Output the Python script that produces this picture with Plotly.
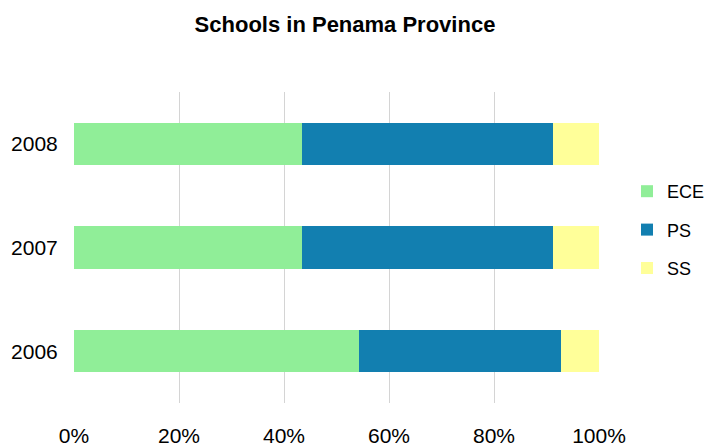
import plotly.graph_objects as go

years = ["2006", "2007", "2008"]
ece = [54.2, 43.5, 43.5]
ps = [38.6, 47.8, 47.8]
ss = [7.2, 8.7, 8.7]

series = [("ECE", ece, "#90EE98"), ("PS", ps, "#127FB0"), ("SS", ss, "#FFFF99")]

fig = go.Figure()
for i, (name, vals, col) in enumerate(series):
    fig.add_trace(go.Bar(
        y=years, x=vals, name=name, orientation="h",
        marker=dict(color=col, line=dict(width=0)),
        legendgroup=name,
    ))

font = "Liberation Sans, Arial, sans-serif"
fig.update_layout(
    width=705, height=446,
    barmode="stack", bargap=0.594,
    plot_bgcolor="white", paper_bgcolor="white",
    margin=dict(l=74, r=106, t=92, b=43, autoexpand=False),
    title=dict(text="<b>Schools in Penama Province</b>", x=345/705, xanchor="center",
               y=1 - 24.5/446, yanchor="middle",
               font=dict(family=font, size=22, color="#000000")),
    font=dict(family=font, size=21, color="#000000"),
    xaxis=dict(range=[0, 100], tickvals=[0, 20, 40, 60, 80, 100],
               ticktext=["0%", "20%", "40%", "60%", "80%", "100%"],
               showgrid=True, gridcolor="#d4d4d4", gridwidth=1,
               zeroline=False, showline=False, ticks="outside", ticklen=14,
               tickcolor="rgba(0,0,0,0)", automargin=False),
    yaxis=dict(showgrid=False, zeroline=False, showline=False,
               ticks="outside", ticklen=11, tickcolor="rgba(0,0,0,0)",
               automargin=False),
    legend=dict(xref="container", x=627/705, xanchor="left",
                yref="container", y=1 - 230/446, yanchor="middle",
                traceorder="grouped", tracegroupgap=12,
                font=dict(family=font, size=18, color="#000000")),
)

fig.write_html("out.html", config={"displayModeBar": False},
               post_script="document.body.style.margin='0';document.body.style.padding='0';document.body.style.overflow='hidden';")
